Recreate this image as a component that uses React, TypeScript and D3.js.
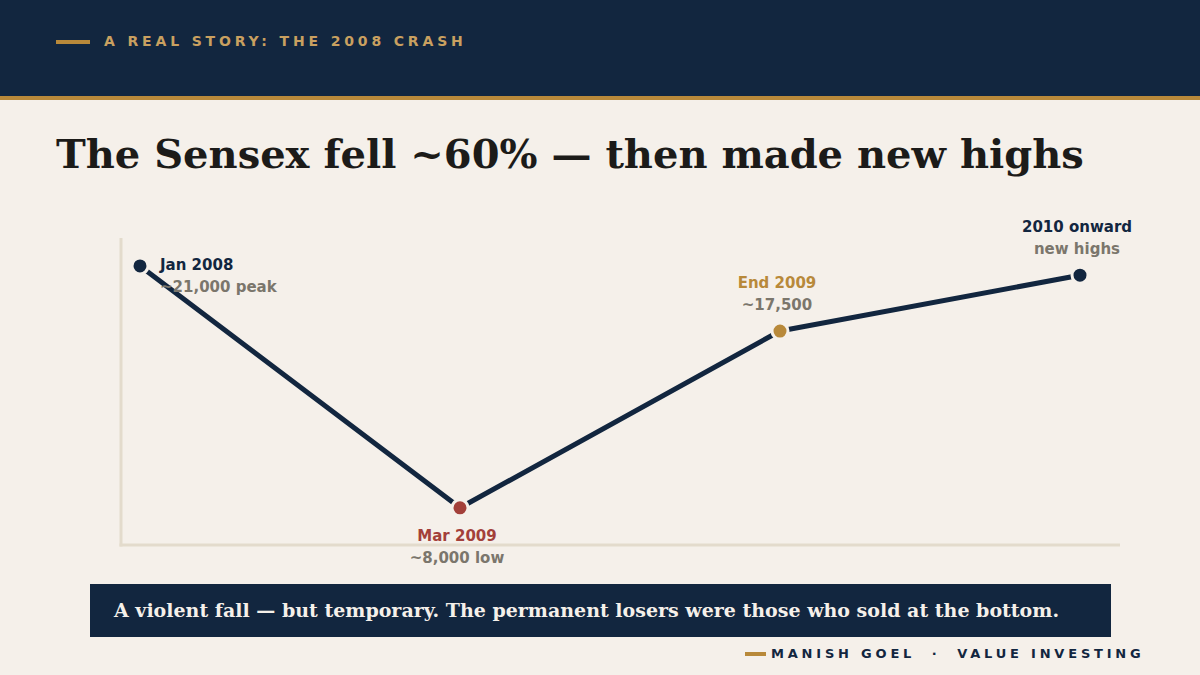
import React from "react";
import * as d3 from "d3";

const W = 1200;
const H = 675;

// Data
const pointLabels = ["Jan 2008", "Mar 2009", "End 2009", "2010 onward"];
const pointSubLabels = ["~21,000 peak", "~8,000 low", "~17,500", "new highs"];
const timelinePos = [2, 34, 66, 96]; // position along the timeline (0-100)
const sensexValues = [21000, 8000, 17500, 20500];
const labelPlacement = ["right", "below", "above", "above"];
const pointColors = ["#12263f", "#a3403a", "#b8893a", "#12263f"];
const labelColors = ["#12263f", "#a3403a", "#b8893a", "#12263f"];

const NAVY = "#12263f";
const GOLD = "#b8893a";
const BG = "#f5f0ea";
const GRAY = "#7b766c";
const AXIS = "#e3dbcc";

const SANS = "'DejaVu Sans', sans-serif";
const SERIF = "'DejaVu Serif', serif";

export default function App() {
  const x = d3.scaleLinear().domain([0, 100]).range([120, 1120]);
  const y = d3.scaleLinear().domain([6000, 22500]).range([545, 238]);

  const pts = sensexValues.map((v, i) => ({
    x: x(timelinePos[i]),
    y: y(v),
    label: pointLabels[i],
    sub: pointSubLabels[i],
    place: labelPlacement[i],
    color: pointColors[i],
    lc: labelColors[i],
  }));

  const line = d3
    .line<{ x: number; y: number }>()
    .x((d) => d.x)
    .y((d) => d.y);

  return (
    <svg
      width={W}
      height={H}
      viewBox={`0 0 ${W} ${H}`}
      style={{ position: "fixed", left: 0, top: 0, display: "block" }}
    >
      <rect x={0} y={0} width={W} height={H} fill={BG} />
      {/* header */}
      <rect x={0} y={0} width={W} height={96} fill={NAVY} />
      <rect x={0} y={96} width={W} height={4} fill={GOLD} />
      <rect x={56} y={40} width={34} height={4} fill={GOLD} />
      <text
        x={104}
        y={46}
        fill="#c9a060"
        fontFamily={SANS}
        fontWeight="bold"
        fontSize={14}
        letterSpacing={3.85}
      >
        A REAL STORY: THE 2008 CRASH
      </text>

      {/* title */}
      <text
        x={56}
        y={168}
        fill="#1c1b19"
        fontFamily={SERIF}
        fontWeight="bold"
        fontSize={40}
      >
        The Sensex fell ~60% — then made new highs
      </text>

      {/* axes */}
      <line x1={121} y1={238} x2={121} y2={546.5} stroke={AXIS} strokeWidth={3} />
      <line x1={119.5} y1={545} x2={1120} y2={545} stroke={AXIS} strokeWidth={3} />

      {/* line */}
      <path
        d={line(pts) || ""}
        fill="none"
        stroke={NAVY}
        strokeWidth={5}
        strokeLinejoin="round"
        strokeLinecap="round"
      />

      {pts.map((p, i) => (
        <circle key={"c" + i} cx={p.x} cy={p.y} r={8} fill={p.color} stroke={BG} strokeWidth={3} />
      ))}

      {pts.map((p, i) => {
        let tx = p.x;
        let ty1 = p.y - 43;
        let anchor: "start" | "middle" = "middle";
        if (p.place === "right") {
          tx = p.x + 20;
          ty1 = p.y + 4;
          anchor = "start";
        } else if (p.place === "below") {
          tx = p.x - 3;
          ty1 = p.y + 33;
        } else {
          tx = p.x - 3;
        }
        return (
          <g key={"l" + i} fontFamily={SANS} fontWeight="bold" fontSize={15} textAnchor={anchor}>
            <text x={tx} y={ty1} fill={p.lc}>
              {p.label}
            </text>
            <text x={tx} y={ty1 + 22} fill={GRAY}>
              {p.sub}
            </text>
          </g>
        );
      })}

      {/* caption */}
      <rect x={90} y={584} width={1021} height={53} fill={NAVY} />
      <text
        x={114}
        y={617}
        fill="#f5f0ea"
        fontFamily={SERIF}
        fontWeight="bold"
        fontSize={19}
      >
        A violent fall — but temporary. The permanent losers were those who sold at the bottom.
      </text>

      {/* footer */}
      <rect x={745} y={652} width={21} height={4} fill={GOLD} />
      <text
        x={771}
        y={658}
        fill={NAVY}
        fontFamily={SANS}
        fontWeight="bold"
        fontSize={13}
        letterSpacing={3.8}
        xmlSpace="preserve"
        style={{ whiteSpace: "pre" }}
      >
        {"MANISH GOEL  ·  VALUE INVESTING"}
      </text>
    </svg>
  );
}
